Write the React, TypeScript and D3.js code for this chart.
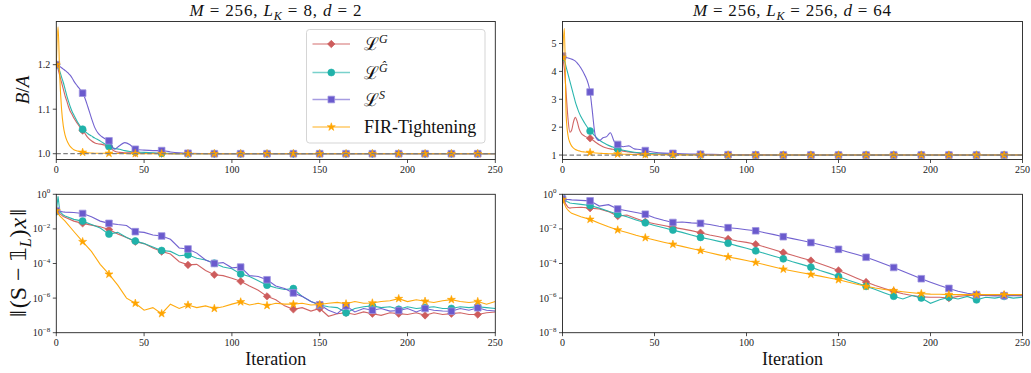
import React from "react";
import * as d3 from "d3";

// ---------- data ----------
const ITER_TOP = [0,1,2,3,4,5,6,7,8,9,10,12,14,15,16,18,20,22,24,26,28,30,33,36,39,42,45,50,55,60,65,70,75,90,105,120,135,150,165,180,195,210,225,240,250];

const TL_G = [1.2,1.19,1.175,1.16,1.145,1.13,1.118,1.105,1.095,1.088,1.08,1.068,1.057,1.052,1.047,1.036,1.029,1.024,1.022,1.021,1.019,1.016,1.006,1.003,1.002,1.002,1.002,1.001,1.001,1.0005,1,1,1,1,1,1,1,1,1,1,1,1,1,1,1];
const TL_GH = [1.2,1.195,1.185,1.172,1.16,1.145,1.13,1.117,1.105,1.095,1.087,1.072,1.06,1.055,1.051,1.045,1.04,1.035,1.031,1.026,1.021,1.016,1.012,1.01,1.007,1.005,1.004,1.003,1.002,1.001,1.0005,1,1,1,1,1,1,1,1,1,1,1,1,1,1];
const TL_S = [1.2,1.199,1.196,1.193,1.19,1.187,1.184,1.18,1.176,1.17,1.163,1.152,1.142,1.136,1.128,1.105,1.08,1.058,1.045,1.038,1.033,1.029,1.01,1.018,1.025,1.02,1.01,1.008,1.007,1.007,1.004,1.002,1.001,1,1,1,1,1,1,1,1,1,1,1,1];
const TL_FIR = [1.2,1.285,1.17,1.1,1.062,1.042,1.03,1.022,1.016,1.012,1.009,1.006,1.004,1.003,1.003,1.002,1.0015,1.001,1.001,1.001,1.001,1.0008,1.0006,1.0005,1.0004,1.0003,1.0002,1.0001,1,1,1,1,1,1,1,1,1,1,1,1,1,1,1,1,1];

const TR_G = [4.5,4.1,3.2,2.3,1.82,1.9,2.2,2.35,2.2,1.95,1.8,1.68,1.62,1.6,1.56,1.46,1.37,1.3,1.25,1.22,1.2,1.18,1.14,1.11,1.08,1.06,1.05,1.035,1.025,1.02,1.012,1.008,1.005,1.002,1.001,1,1,1,1,1,1,1,1,1,1];
const TR_GH = [4.5,4.4,4.15,3.9,3.65,3.4,3.15,2.9,2.7,2.52,2.38,2.15,1.95,1.86,1.8,1.66,1.54,1.45,1.38,1.32,1.27,1.22,1.17,1.13,1.1,1.08,1.065,1.045,1.032,1.024,1.017,1.012,1.008,1.003,1.001,1,1,1,1,1,1,1,1,1,1];
const TR_S = [4.55,4.53,4.5,4.48,4.46,4.44,4.41,4.37,4.3,4.22,4.12,3.88,3.55,3.26,2.7,1.65,1.52,1.62,1.66,1.8,1.5,1.38,1.3,1.33,1.22,1.2,1.16,1.1,1.07,1.06,1.045,1.035,1.03,1.012,1.005,1.002,1,1,1,1,1,1,1,1,1];
const TR_FIR = [4.5,5.55,2.4,1.7,1.45,1.32,1.25,1.2,1.17,1.15,1.13,1.11,1.095,1.09,1.085,1.075,1.065,1.057,1.05,1.045,1.04,1.035,1.03,1.025,1.02,1.016,1.013,1.01,1.008,1.006,1.005,1.004,1.003,1.002,1.001,1,1,1,1,1,1,1,1,1,1];

// bottom panels: values stored as log10 exponents
const ITER_BOT = [0,1,2,3,4,5,10,15,20,25,30,35,40,45,50,55,60,65,70,75,80,85,90,95,100,105,110,115,120,125,130,135,140,145,150,155,160,165,170,175,180,185,190,195,200,205,210,215,220,225,230,235,240,245,250];

const BL_G = [-1.0,-1.05,-1.12,-1.2,-1.28,-1.33,-1.55,-1.68,-1.78,-1.88,-2.03,-2.3,-2.5,-2.74,-2.85,-3.1,-3.31,-3.45,-3.9,-4.08,-4.05,-4.4,-4.65,-4.7,-4.85,-5.03,-5.3,-5.55,-5.9,-6.1,-6.45,-6.65,-6.55,-6.75,-6.6,-7.05,-6.9,-6.85,-6.95,-6.8,-6.9,-7.0,-6.85,-6.9,-6.95,-6.85,-7.0,-6.85,-6.95,-6.9,-6.85,-6.95,-6.95,-6.85,-6.8];
const BL_GH = [-1.0,-0.12,-1.0,-1.1,-1.2,-1.25,-1.45,-1.55,-1.75,-1.95,-2.3,-2.2,-2.5,-2.7,-2.85,-3.05,-3.25,-3.3,-3.55,-3.5,-3.7,-3.8,-3.98,-4.2,-4.3,-4.6,-4.75,-5.0,-5.25,-5.4,-5.5,-5.45,-5.9,-6.2,-6.4,-6.5,-6.55,-6.85,-6.6,-6.5,-6.45,-6.55,-6.5,-6.65,-6.5,-6.6,-6.55,-6.5,-6.6,-6.6,-6.5,-6.55,-6.5,-6.55,-6.6];
const BL_S = [-0.95,-0.95,-0.97,-1.0,-1.02,-1.03,-1.05,-1.11,-1.3,-1.55,-1.68,-1.75,-1.8,-2.16,-2.2,-2.35,-2.41,-2.6,-3.1,-3.16,-3.4,-3.8,-4.0,-3.95,-4.25,-4.21,-4.7,-4.75,-4.94,-5.3,-5.45,-5.7,-5.9,-6.2,-6.39,-6.7,-6.9,-6.45,-6.8,-6.6,-6.7,-6.6,-6.75,-6.72,-6.6,-6.8,-6.6,-6.7,-6.75,-6.76,-6.6,-6.7,-6.56,-6.7,-6.75];
const BL_FIR = [-0.95,-1.1,-1.25,-1.35,-1.45,-1.55,-2.15,-2.74,-3.3,-4.05,-4.62,-5.25,-6.0,-6.3,-6.7,-6.55,-6.9,-6.35,-6.6,-6.4,-6.55,-6.45,-6.6,-6.5,-6.35,-6.22,-6.4,-6.3,-6.43,-6.3,-6.35,-6.35,-6.3,-6.4,-6.37,-6.3,-6.25,-6.33,-6.2,-6.3,-6.28,-6.2,-6.15,-6.03,-6.2,-6.1,-6.18,-6.25,-6.15,-6.09,-6.2,-6.25,-6.2,-6.35,-6.2];

const BR_G = [-0.3,-0.45,-0.6,-0.75,-0.8,-0.78,-0.75,-0.8,-0.85,-1.0,-1.26,-1.2,-1.4,-1.59,-1.7,-1.8,-1.91,-2.0,-2.1,-2.22,-2.35,-2.45,-2.58,-2.7,-2.78,-2.89,-3.05,-3.2,-3.37,-3.52,-3.68,-3.83,-4.02,-4.2,-4.4,-4.62,-4.85,-5.07,-5.27,-5.45,-5.61,-5.75,-5.85,-5.93,-5.95,-5.95,-6.0,-5.9,-5.85,-5.85,-5.85,-5.85,-5.82,-5.85,-5.85];
const BR_GH = [-0.3,-0.05,-0.4,-0.45,-0.5,-0.52,-0.58,-0.65,-0.8,-0.98,-1.15,-1.3,-1.48,-1.65,-1.8,-1.93,-2.07,-2.2,-2.35,-2.49,-2.6,-2.72,-2.83,-2.98,-3.12,-3.27,-3.42,-3.58,-3.73,-3.9,-4.05,-4.21,-4.4,-4.57,-4.75,-4.95,-5.13,-5.32,-5.5,-5.7,-5.89,-6.05,-5.85,-5.99,-6.3,-6.1,-5.95,-6.05,-5.9,-6.1,-5.95,-6.0,-5.9,-6.0,-5.95];
const BR_S = [-0.28,-0.28,-0.3,-0.3,-0.31,-0.32,-0.35,-0.38,-0.68,-0.6,-0.85,-0.95,-1.05,-1.15,-1.35,-1.5,-1.63,-1.6,-1.65,-1.68,-1.75,-1.85,-1.93,-1.98,-2.05,-2.11,-2.22,-2.33,-2.45,-2.56,-2.67,-2.79,-2.92,-3.05,-3.18,-3.33,-3.48,-3.64,-3.83,-4.03,-4.23,-4.45,-4.66,-4.88,-5.08,-5.27,-5.44,-5.6,-5.72,-5.8,-5.85,-5.87,-5.86,-5.85,-5.88];
const BR_FIR = [-0.3,-0.55,-0.78,-0.92,-1.02,-1.1,-1.3,-1.45,-1.67,-1.88,-2.06,-2.21,-2.37,-2.51,-2.64,-2.77,-2.89,-3.01,-3.13,-3.25,-3.38,-3.5,-3.62,-3.72,-3.83,-3.94,-4.07,-4.2,-4.33,-4.43,-4.53,-4.63,-4.73,-4.84,-4.94,-5.07,-5.2,-5.32,-5.42,-5.5,-5.57,-5.63,-5.69,-5.74,-5.77,-5.78,-5.8,-5.8,-5.8,-5.8,-5.8,-5.8,-5.8,-5.8,-5.8];

const X_TICKS = [0, 50, 100, 150, 200, 250];
const TL_Y_TICKS = [1.0, 1.1, 1.2];
const TR_Y_TICKS = [1, 2, 3, 4, 5];
const LOG_Y_EXP = [0, -2, -4, -6, -8];

const COLORS = { G: "#CD5C5C", GH: "#20B2AA", S: "#6A5ACD", FIR: "#FFA500" };
const SERIES_KEYS = ["G", "GH", "S", "FIR"] as const;
type Key = typeof SERIES_KEYS[number];

const FONT = "'Liberation Serif', 'DejaVu Serif', serif";

// ---------- helpers ----------
function Marker({ kind, x, y }: { kind: Key; x: number; y: number }) {
  const c = COLORS[kind];
  if (kind === "G") {
    const p = d3.symbol(d3.symbolSquare, 28)();
    return <path d={p!} transform={`translate(${x},${y}) rotate(45)`} fill={c} stroke={c} strokeWidth={0.6} />;
  }
  if (kind === "GH") return <circle cx={x} cy={y} r={3.5} fill={c} stroke={c} strokeWidth={0.6} />;
  if (kind === "S") {
    const p = d3.symbol(d3.symbolSquare, 44)();
    return <path d={p!} transform={`translate(${x},${y})`} fill={c} stroke="#9d93e0" strokeWidth={0.8} />;
  }
  const p = d3.symbol(d3.symbolStar, 20)();
  return <path d={p!} transform={`translate(${x},${y})`} fill={c} stroke={c} strokeWidth={0.6} />;
}

type Box = { l: number; r: number; t: number; b: number };

function Panel({ id, box, iters, data, yScale, yTicks, log, dashedOne, curve }: {
  id: string; box: Box; iters: number[]; data: Record<Key, number[]>;
  yScale: any; yTicks: { v: number; label: React.ReactNode }[]; log: boolean; dashedOne: boolean; curve: any;
}) {
  const x = d3.scaleLinear().domain([0, 250]).range([box.l, box.r]);
  const yv = (v: number) => (log ? yScale(Math.pow(10, v)) : yScale(v));
  const line = d3.line<number>().x((_, i) => x(iters[i])).y((d) => yv(d)).curve(curve);
  return (
    <g>
      <defs>
        <clipPath id={`clip-${id}`}>
          <rect x={box.l} y={box.t} width={box.r - box.l} height={box.b - box.t} />
        </clipPath>
      </defs>
      <g clipPath={`url(#clip-${id})`}>
        {SERIES_KEYS.map((k) => (
          <g key={k}>
            <path d={line(data[k])!} fill="none" stroke={COLORS[k]} strokeWidth={1.1} strokeOpacity={0.95} />
            {iters.map((it, i) =>
              it % 15 === 0 && it <= 240 ? <Marker key={i} kind={k} x={x(it)} y={yv(data[k][i])} /> : null
            )}
          </g>
        ))}
        {dashedOne && (
          <line x1={box.l} x2={box.r} y1={yScale(1)} y2={yScale(1)} stroke="#7f7f7f" strokeWidth={1.2} strokeDasharray="4.5,2.5" />
        )}
      </g>
      <rect x={box.l} y={box.t} width={box.r - box.l} height={box.b - box.t} fill="none" stroke="#222" strokeWidth={0.9} />
      {X_TICKS.map((t) => (
        <g key={t}>
          <line x1={x(t)} x2={x(t)} y1={box.b} y2={box.b + 3.5} stroke="#222" strokeWidth={0.8} />
          <text x={x(t)} y={box.b + 13.5} textAnchor="middle" fontFamily={FONT} fontSize={10} fill="#222">{t}</text>
        </g>
      ))}
      {yTicks.map((t, i) => (
        <g key={i}>
          <line x1={box.l - 3.5} x2={box.l} y1={yScale(log ? Math.pow(10, t.v) : t.v)} y2={yScale(log ? Math.pow(10, t.v) : t.v)} stroke="#222" strokeWidth={0.8} />
          <text x={box.l - 6} y={yScale(log ? Math.pow(10, t.v) : t.v) + 3.5} textAnchor="end" fontFamily={FONT} fontSize={10} fill="#222">{t.label}</text>
        </g>
      ))}
    </g>
  );
}

export default function App() {
  const TL: Box = { l: 56.3, r: 495.3, t: 21.5, b: 159.5 };
  const TR: Box = { l: 562.5, r: 1022.5, t: 21.5, b: 159.5 };
  const BL: Box = { l: 56.3, r: 495.3, t: 194.3, b: 332.7 };
  const BR: Box = { l: 562.5, r: 1022.5, t: 194.3, b: 332.7 };

  const yTL = d3.scaleLinear().domain([0.987, 1.297]).range([TL.b, TL.t]);
  const yTR = d3.scaleLinear().domain([0.84, 5.79]).range([TR.b, TR.t]);
  const yBL = d3.scaleLog().domain([1e-8, 1]).range([BL.b, BL.t]);
  const yBR = d3.scaleLog().domain([1e-8, 1]).range([BR.b, BR.t]);

  const logTicks = LOG_Y_EXP.map((e) => ({
    v: e,
    label: (
      <>
        10<tspan dy={-4.5} fontSize={7}>{e === 0 ? "0" : `\u2212${-e}`}</tspan>
      </>
    ),
  }));

  const legendItems: { k: Key; label: React.ReactNode }[] = [
    { k: "G", label: <><tspan fontFamily="'DejaVu Serif', serif">ℒ</tspan><tspan dy={-7} fontSize={12} fontStyle="italic">G</tspan></> },
    { k: "GH", label: <><tspan fontFamily="'DejaVu Serif', serif">ℒ</tspan><tspan dy={-7} fontSize={12} fontStyle="italic">Ĝ</tspan></> },
    { k: "S", label: <><tspan fontFamily="'DejaVu Serif', serif">ℒ</tspan><tspan dy={-7} fontSize={12} fontStyle="italic">S</tspan></> },
    { k: "FIR", label: <>FIR-Tightening</> },
  ];
  const legendY = [44, 72.5, 99.5, 127];

  const title = (cx: number, lk: string, d: string, w: number) => (
    <text x={cx} y={16} textAnchor="middle" fontFamily={FONT} fontSize={17} fill="#111" textLength={w} lengthAdjust="spacing">
      <tspan fontStyle="italic">M</tspan>
      <tspan> = 256, </tspan>
      <tspan fontStyle="italic">L</tspan>
      <tspan dy={3.5} fontSize={12} fontStyle="italic">K</tspan>
      <tspan dy={-3.5}> = {lk}, </tspan>
      <tspan fontStyle="italic">d</tspan>
      <tspan> = {d}</tspan>
    </text>
  );

  return (
    <svg width={1031} height={373} style={{ position: "absolute", left: 0, top: 0, background: "#fff" }}>
      <rect x={0} y={0} width={1031} height={373} fill="#fff" />
      {title(275.5, "8", "2", 172)}
      {title(792, "256", "64", 198)}

      <Panel id="tl" box={TL} iters={ITER_TOP} data={{ G: TL_G, GH: TL_GH, S: TL_S, FIR: TL_FIR }} yScale={yTL}
        yTicks={TL_Y_TICKS.map((v) => ({ v, label: v.toFixed(1) }))} log={false} dashedOne={true} curve={d3.curveMonotoneX} />
      <Panel id="tr" box={TR} iters={ITER_TOP} data={{ G: TR_G, GH: TR_GH, S: TR_S, FIR: TR_FIR }} yScale={yTR}
        yTicks={TR_Y_TICKS.map((v) => ({ v, label: String(v) }))} log={false} dashedOne={true} curve={d3.curveMonotoneX} />
      <Panel id="bl" box={BL} iters={ITER_BOT} data={{ G: BL_G, GH: BL_GH, S: BL_S, FIR: BL_FIR }} yScale={yBL}
        yTicks={logTicks} log={true} dashedOne={false} curve={d3.curveLinear} />
      <Panel id="br" box={BR} iters={ITER_BOT} data={{ G: BR_G, GH: BR_GH, S: BR_S, FIR: BR_FIR }} yScale={yBR}
        yTicks={logTicks} log={true} dashedOne={false} curve={d3.curveLinear} />

      {/* legend */}
      <g>
        <rect x={306.5} y={29.5} width={178.5} height={113.5} rx={3} fill="#fff" fillOpacity={0.85} stroke="#d0d0d0" strokeWidth={0.9} />
        {legendItems.map((it, i) => (
          <g key={it.k}>
            <line x1={312.5} x2={350} y1={legendY[i]} y2={legendY[i]} stroke={COLORS[it.k]} strokeWidth={1.5} strokeOpacity={0.6} />
            <Marker kind={it.k} x={331.3} y={legendY[i]} />
            <text x={364} y={legendY[i] + 6} fontFamily={FONT} fontSize={18} fill="#111">{it.label}</text>
          </g>
        ))}
      </g>

      {/* axis labels */}
      <text transform="translate(29,90) rotate(-90)" textAnchor="middle" fontFamily={FONT} fontSize={19} fill="#111">
        <tspan fontStyle="italic">B</tspan>/<tspan fontStyle="italic">A</tspan>
      </text>
      <text transform="translate(26,263) rotate(-90)" textAnchor="middle" fontFamily={FONT} fontSize={24} fill="#111">
        <tspan>‖</tspan>
        <tspan dx={2}>(S</tspan>
        <tspan dx={6}>−</tspan>
        <tspan dx={6} fontFamily="'DejaVu Sans', sans-serif" fontSize={22}>𝟙</tspan>
        <tspan dy={4.5} fontSize={16} fontStyle="italic">L</tspan>
        <tspan dy={-4.5} dx={1}>)</tspan>
        <tspan dx={1} fontStyle="italic">x</tspan>
        <tspan dx={2}>‖</tspan>
      </text>
      <text x={(BL.l + BL.r) / 2} y={365} textAnchor="middle" fontFamily={FONT} fontSize={18} fill="#111">Iteration</text>
      <text x={(BR.l + BR.r) / 2} y={365} textAnchor="middle" fontFamily={FONT} fontSize={18} fill="#111">Iteration</text>
    </svg>
  );
}
